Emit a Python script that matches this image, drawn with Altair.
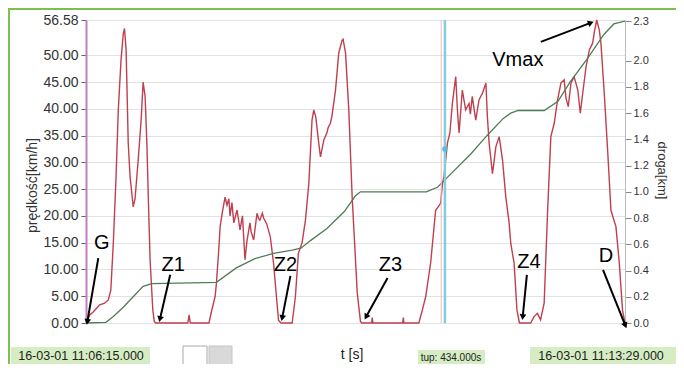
import math
import altair as alt
import pandas as pd

FONT = "Liberation Sans"

# ---------------- data ----------------
t_speed = [5464.5, 5467, 5470, 5475, 5479, 5482, 5484, 5486, 5488.2, 5490, 5492.2, 5494, 5495,
           5496.3, 5498, 5499.5, 5502, 5503.5, 5506, 5508.4, 5510, 5511.6, 5513, 5514.3, 5515.6,
           5517.8, 5519, 5520, 5546, 5547, 5548, 5563, 5565, 5568, 5569, 5571, 5572, 5574, 5576,
           5577.5, 5579, 5580, 5581.5, 5583, 5585.6, 5587, 5588, 5590, 5592, 5593.6, 5596, 5597,
           5599, 5601.7, 5603, 5604, 5606, 5607, 5609.5, 5612.4, 5615, 5617.8, 5619, 5621, 5630,
           5632.6, 5635, 5638, 5640.7, 5643.4, 5646, 5647.4, 5649, 5651.4, 5652.8, 5655.5, 5658,
           5659, 5660.8, 5662, 5664.9, 5667.5, 5670.2, 5671, 5673, 5675.6, 5678.3, 5681, 5682.4,
           5685, 5686, 5694, 5694.5, 5695, 5719, 5719.5, 5720, 5732, 5734.8, 5737.5, 5741.5,
           5745.5, 5747, 5749.6, 5751, 5752.2, 5755, 5757, 5759, 5761.7, 5763, 5764.4, 5767,
           5769.7, 5772.4, 5773.5, 5775, 5777.8, 5780.5, 5783.2, 5786, 5787.2, 5788.6, 5791.3,
           5792.5, 5794, 5796.7, 5799.4, 5802, 5804.7, 5806, 5808.7, 5811, 5813, 5822, 5824.8,
           5827.5, 5830, 5832.9, 5835.7, 5838.3, 5841, 5843.7, 5846.4, 5849, 5850.5, 5852.3,
           5854.5, 5857, 5860, 5862, 5864, 5866.6, 5869.3, 5872, 5873.3, 5875.2, 5877.3, 5878.6,
           5881.3, 5884, 5886.7, 5890.7, 5893.4, 5896, 5898]
v_speed = [0, 1.5, 2.1, 3.4, 3.7, 4.3, 6.2, 15, 27.3, 39.8, 49.1, 54, 55,
           51, 33.6, 27.3, 21.7, 23.2, 30.4, 37.9, 45, 42.3, 33.6, 22.4, 11.8,
           2.4, 0.3, 0, 0, 1.5, 0, 0, 2.1, 5, 7.4, 14, 18, 21, 23.5,
           22, 23.2, 20, 22.5, 18.7, 21.1, 19, 17.4, 20, 11.8, 15.3, 18.7, 17,
           15.5, 20.5, 19.5, 19.2, 20.5, 19.6, 18.5, 16.1, 11.2, 3.7, 0.5, 0, 0,
           4.9, 13, 15, 19.2, 26, 37.9, 39.8, 38.5, 33.6, 31, 34.2, 35.5,
           36.5, 37.3, 38.6, 43.5, 50.4, 52.8, 53, 50.4, 39.8, 23.6, 11.8, 5.6,
           0.3, 0, 0, 1.0, 0, 0, 1.0, 0, 0, 2.4, 4.9, 11.2,
           21, 21.5, 22.4, 26, 27.3, 33.6, 35.5, 41, 46, 40, 35.5, 43.5,
           39.8, 41, 39, 42.3, 37.9, 41.7, 42.9, 44.8, 38.5, 33.6, 27.9,
           30, 32.9, 34.8, 30.4, 23.6, 18.7, 14.9, 11.2, 2.4, 0, 0, 1.2,
           1.8, 0.6, 3.7, 21, 34.8, 37.3, 41.6, 44.8, 45.4, 42, 40.4,
           44.8, 46, 43.5, 39.2, 43, 47.8, 51, 52.3, 54.3, 56.58, 54.7, 52.3,
           42.9, 32.3, 21, 18, 11.2, 2.4, 0]

t_dist = [5464, 5480, 5486, 5494, 5502, 5510, 5517, 5569, 5585, 5600, 5615, 5630, 5637, 5645,
          5658, 5672, 5681, 5685, 5738, 5747, 5755, 5774, 5787, 5800, 5806, 5812, 5833, 5844,
          5854, 5868, 5881, 5889, 5897, 5898]
km_dist = [0, 0.005, 0.05, 0.12, 0.20, 0.28, 0.30, 0.31, 0.42, 0.49, 0.53, 0.555, 0.57, 0.63,
           0.72, 0.85, 0.97, 1.0, 1.0, 1.035, 1.11, 1.29, 1.43, 1.56, 1.60, 1.62, 1.62, 1.69,
           1.84, 2.02, 2.2, 2.28, 2.30, 2.30]

x_ticks = [5464, 5500, 5550, 5600, 5650, 5700, 5750, 5800, 5850, 5898]
v_ticks = [0, 5, 10, 15, 20, 25, 30, 35, 40, 45, 50, 56.58]
km_ticks = [0.0, 0.2, 0.4, 0.6, 0.8, 1.0, 1.2, 1.4, 1.6, 1.8, 2.0, 2.3]

ann_label = ["G", "Z1", "Z2", "Z3", "Z4", "D", "Vmax"]
ann_text_t = [5476.7, 5534.2, 5624.5, 5709.2, 5820.6, 5882.7, 5811.7]
ann_text_v = [14.9, 10.8, 10.8, 10.8, 11.4, 12.5, 49.1]
ann_from_t = [5473.9, 5531.8, 5628.6, 5706.8, 5819.0, 5880.3, 5830.2]
ann_from_v = [12.1, 9.0, 8.8, 8.4, 9.0, 9.9, 52.5]
ann_to_t = [5465.2, 5523.7, 5622.1, 5689.9, 5815.7, 5898.0, 5869.8]
ann_to_v = [0.4, 0.9, 1.1, 1.3, 1.3, -0.3, 56.0]

cursor_t = [5753]
cursor_v = [32.5]

# ---------------- layout / style ----------------
T0, T1 = 5464, 5898
VMAX, KMAX = 56.58, 2.31
W, H = 539, 303
RED = "#bf3f4f"
GREEN = "#4e7d55"

xs = alt.Scale(domain=[T0, T1], nice=False, zero=False)
vs = alt.Scale(domain=[0, VMAX], nice=False, zero=False)
ks = alt.Scale(domain=[0, KMAX], nice=False, zero=False)

speed_df = pd.DataFrame({"t": t_speed, "v": v_speed})
dist_df = pd.DataFrame({"t": t_dist, "km": km_dist})


def px(t):
    return (t - T0) / (T1 - T0) * W


def py(v):
    return H - v / VMAX * H


angles = []
for a, b, c, d in zip(ann_from_t, ann_from_v, ann_to_t, ann_to_v):
    dx = px(c) - px(a)
    dy = py(d) - py(b)
    angles.append(math.degrees(math.atan2(dx, -dy)) % 360)

ann_df = pd.DataFrame({
    "label": ann_label, "tt": ann_text_t, "tv": ann_text_v,
    "ft": ann_from_t, "fv": ann_from_v, "et": ann_to_t, "ev": ann_to_v, "ang": angles,
})

x_axis = alt.Axis(values=x_ticks, format="d", title=None, grid=True, gridColor="#e2e2e2",
                  labelFont=FONT, labelFontSize=13, labelColor="#333", labelFlush=False,
                  labelOverlap=False, tickColor="#888", tickSize=5, labelPadding=5,
                  domainColor="#999")

speed = alt.Chart(speed_df).mark_line(color=RED, strokeWidth=1.4).encode(
    x=alt.X("t:Q", scale=xs, axis=x_axis),
    y=alt.Y("v:Q", scale=vs, axis=alt.Axis(
        values=v_ticks, format=".2f", title="prędkość[km/h]", grid=True, gridColor="#e2e2e2",
        labelFont=FONT, labelFontSize=14, labelColor="#333", labelOverlap=False,
        tickColor="#666", tickSize=5, labelPadding=3, domainColor="#c47cc4", domainWidth=2,
        titleFont=FONT, titleFontSize=14, titleFontWeight="normal", titleColor="#333",
        titleAngle=270, titleX=-54, titleY=165, titleAlign="center", titleBaseline="middle")),
)

dist = alt.Chart(dist_df).mark_line(color=GREEN, strokeWidth=1.3).encode(
    x=alt.X("t:Q", scale=xs, axis=None),
    y=alt.Y("km:Q", scale=ks, axis=alt.Axis(
        orient="right", values=km_ticks, format=".1f", title="droga[km]", grid=False,
        labelFont=FONT, labelFontSize=11, labelColor="#333", labelOverlap=False,
        tickColor="#888", tickSize=6, labelPadding=2, domainColor="#bbb",
        titleFont=FONT, titleFontSize=13, titleFontWeight="normal", titleColor="#333",
        titleAngle=90, titleX=36, titleY=150, titleAlign="center", titleBaseline="middle")),
)

cursor_df = pd.DataFrame({"t": cursor_t, "v": cursor_v})
cursor_pink = alt.Chart(pd.DataFrame({"t": [cursor_t[0] - 3]})).mark_rule(
    color="#f3b8c4", strokeWidth=1).encode(
    x=alt.X("t:Q", scale=xs, axis=None), y=alt.value(0), y2=alt.value(H))
cursor = alt.Chart(cursor_df).mark_rule(color="#7fcfdc", strokeWidth=2.5).encode(
    x=alt.X("t:Q", scale=xs, axis=None), y=alt.value(0), y2=alt.value(H))
cursor_dot = alt.Chart(cursor_df).mark_point(
    filled=True, color="#4cc3d6", size=30, opacity=1).encode(
    x=alt.X("t:Q", scale=xs, axis=None), y=alt.Y("v:Q", scale=vs, axis=None))

arrows = alt.Chart(ann_df).mark_rule(color="black", strokeWidth=2).encode(
    x=alt.X("ft:Q", scale=xs, axis=None), y=alt.Y("fv:Q", scale=vs, axis=None),
    x2="et:Q", y2="ev:Q")
heads = alt.Chart(ann_df).mark_point(
    shape="triangle", filled=True, color="black", size=45, opacity=1).encode(
    x=alt.X("et:Q", scale=xs, axis=None), y=alt.Y("ev:Q", scale=vs, axis=None),
    angle=alt.Angle("ang:Q", scale=None))
labels = alt.Chart(ann_df).mark_text(
    font=FONT, fontSize=20, color="black", align="center", baseline="middle").encode(
    x=alt.X("tt:Q", scale=xs, axis=None), y=alt.Y("tv:Q", scale=vs, axis=None), text="label:N")

one = pd.DataFrame({"d": [0]})


def box(x1, x2, y1, y2, fill, stroke=None):
    kw = {"fill": fill}
    if stroke:
        kw["stroke"] = stroke
        kw["strokeWidth"] = 1
    return alt.Chart(one).mark_rect(**kw).encode(
        x=alt.value(x1), x2=alt.value(x2), y=alt.value(y1), y2=alt.value(y2))


def label(x, y, text, size, align="center"):
    return alt.Chart(one).mark_text(
        font=FONT, fontSize=size, color="#222", align=align, baseline="middle").encode(
        x=alt.value(x), y=alt.value(y), text=alt.value(text))


frame_top = alt.Chart(one).mark_rule(color="#7dc04f", strokeWidth=2).encode(
    x=alt.value(-78), x2=alt.value(W + 51), y=alt.value(-11))
frame_left = alt.Chart(one).mark_rule(color="#7dc04f", strokeWidth=2).encode(
    x=alt.value(-77), y=alt.value(-12), y2=alt.value(H + 41))

status = [
    box(-75, 64, 327, 345, "#d6edc4"),
    label(-5, 336, "16-03-01 11:06:15.000", 12.5),
    box(97, 121, 326, 345, "#ffffff", "#aaaaaa"),
    box(123, 146, 326, 345, "#d9d9d9", "#c4c4c4"),
    label(266, 335, "t [s]", 14),
    box(332, 399, 330, 345, "#d6edc4"),
    label(365, 338, "tup: 434.000s", 10),
    box(444, 590, 327, 345, "#d6edc4"),
    label(515, 336, "16-03-01 11:13:29.000", 12.5),
]

chart = alt.layer(
    speed, dist, cursor_pink, cursor, arrows, heads, labels, cursor_dot,
    frame_top, frame_left, *status,
).resolve_scale(y="independent").properties(
    width=W, height=H,
    autosize=alt.AutoSizeParams(type="none"),
    padding={"left": 78, "top": 12, "right": 51, "bottom": 41},
    background="white",
).configure_view(stroke="#b5b5b5", strokeWidth=1)

chart.save("out.html", embed_options={"renderer": "svg", "actions": False})
